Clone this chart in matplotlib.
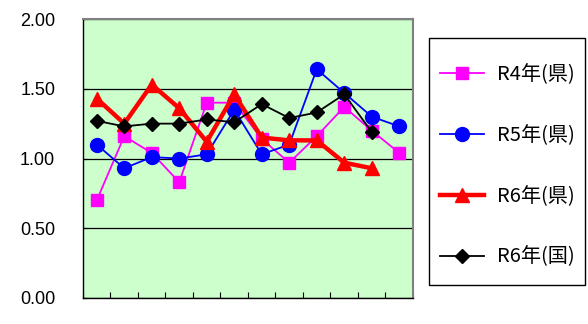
import numpy as np
import matplotlib.pyplot as plt
from matplotlib.patches import Rectangle

plt.rcParams['font.family'] = ['Liberation Sans', 'Noto Sans CJK JP', 'DejaVu Sans']

months = np.arange(1, 13)
r4_ken = [0.70, 1.16, 1.04, 0.83, 1.40, 1.40, 1.14, 0.97, 1.16, 1.37, 1.20, 1.04]
r5_ken = [1.10, 0.93, 1.01, 1.00, 1.03, 1.35, 1.03, 1.10, 1.64, 1.47, 1.30, 1.23]
r6_ken = [1.43, 1.25, 1.53, 1.36, 1.12, 1.46, 1.15, 1.13, 1.13, 0.97, 0.93]
r6_kuni = [1.27, 1.23, 1.25, 1.25, 1.28, 1.26, 1.39, 1.29, 1.33, 1.46, 1.19]

labels = ['R4年(県)', 'R5年(県)', 'R6年(県)', 'R6年(国)']

fig = plt.figure(figsize=(5.88, 3.24), dpi=100)
ax = fig.add_axes([83 / 588, 26 / 324, 330 / 588, 279 / 324])
ax.set_facecolor('#CCFFCC')

ax.plot(months, r4_ken, color='#FF00FF', lw=1.3, marker='s', ms=8.5,
        mec='#FF00FF', label=labels[0])
ax.plot(months, r5_ken, color='#0000FF', lw=1.3, marker='o', ms=10,
        label=labels[1])
ax.plot(months[:len(r6_ken)], r6_ken, color='#FF0000', lw=3.2, marker='^',
        ms=10, label=labels[2])
ax.plot(months[:len(r6_kuni)], r6_kuni, color='black', lw=1.3, marker='D',
        ms=7, label=labels[3])

ax.set_xlim(0.5, 12.5)
ax.set_ylim(0, 2)
ax.set_yticks(np.arange(0, 2.01, 0.5))
ax.set_yticklabels(['%.2f' % v for v in np.arange(0, 2.01, 0.5)])
ax.set_xticks(np.arange(0.5, 12.6, 1))
ax.set_xticklabels([])
ax.tick_params(axis='x', direction='in', length=4, color='black')
ax.tick_params(axis='y', direction='in', length=3, pad=20, labelsize=13)
ax.grid(axis='y', color='black', lw=0.9)
ax.set_axisbelow(True)

for s in ['top', 'right']:
    ax.spines[s].set_color('#808080')
    ax.spines[s].set_linewidth(1.5)
for s in ['left', 'bottom']:
    ax.spines[s].set_color('black')
    ax.spines[s].set_linewidth(1.0)

# legend box drawn separately, entries placed inside it
fig.patches.append(Rectangle((429 / 588, 1 - 285 / 324), 156 / 588, 247 / 324,
                             transform=fig.transFigure, fill=False,
                             edgecolor='black', lw=1.0))
leg = fig.legend(loc='upper left', bbox_to_anchor=(440 / 588, 1 - 64 / 324),
                 fontsize=14.5, frameon=False, handlelength=2.2,
                 labelspacing=1.98, borderpad=0, handletextpad=0.65,
                 borderaxespad=0)
for t in leg.get_texts():
    t.set_family(['Noto Sans CJK JP', 'DejaVu Sans'])

fig.savefig('out.png', dpi=100)
